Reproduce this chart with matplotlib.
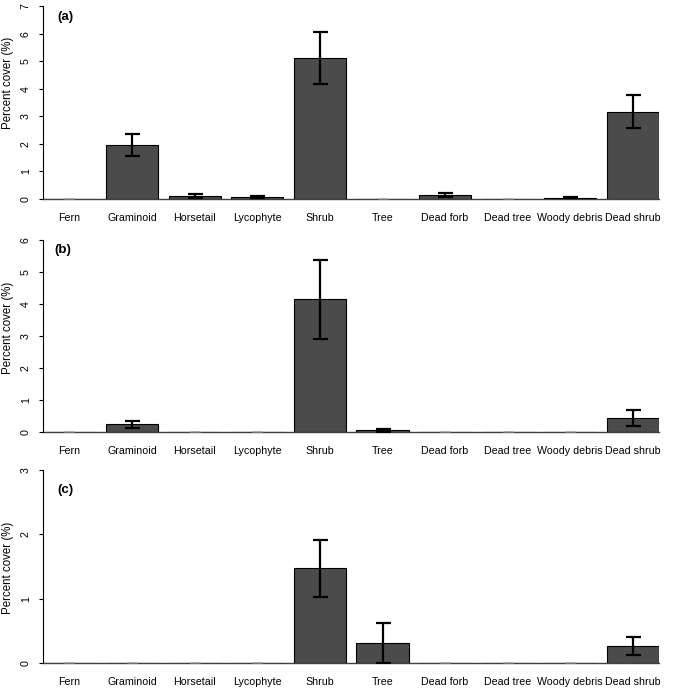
"""Percent cover by functional group, three panels"""

import matplotlib

matplotlib.use("Agg")
import matplotlib.pyplot as plt
import numpy as np

plt.rcParams["font.family"] = ["Liberation Sans", "DejaVu Sans"]

categories = [
    "Fern", "Graminoid", "Horsetail", "Lycophyte", "Shrub",
    "Tree", "Dead forb", "Dead tree", "Woody debris", "Dead shrub",
]

# mean percent cover and standard error for each panel
cover_a = [0.0, 1.96, 0.11, 0.07, 5.11, 0.0, 0.15, 0.0, 0.05, 3.16]
se_a = [0.0, 0.41, 0.06, 0.05, 0.93, 0.0, 0.07, 0.0, 0.03, 0.60]
cover_b = [0.0, 0.24, 0.0, 0.0, 4.15, 0.05, 0.0, 0.0, 0.0, 0.44]
se_b = [0.0, 0.11, 0.0, 0.0, 1.23, 0.04, 0.0, 0.0, 0.0, 0.24]
cover_c = [0.0, 0.0, 0.0, 0.0, 1.47, 0.31, 0.0, 0.0, 0.0, 0.26]
se_c = [0.0, 0.0, 0.0, 0.0, 0.44, 0.31, 0.0, 0.0, 0.0, 0.14]

panel_labels = ["(a)", "(b)", "(c)"]
y_max = [7, 6, 3]

# layout in pixels of the 685x690 figure
W, H = 685, 690
ax_left, ax_right = 43.4, 659.0
ax_rows = [(6, 199), (240, 432), (470, 663)]      # (top, bottom) of y range
label_pos = [(57.7, 16.7), (54.0, 250.0), (57.7, 490.0)]
ylabel_y = [83, 328, 568]

BAR_W = 1 / 1.2

fig = plt.figure(figsize=(W / 100, H / 100), dpi=100)

panels = [(cover_a, se_a), (cover_b, se_b), (cover_c, se_c)]
x = np.arange(len(categories))

for i, (cover, se) in enumerate(panels):
    top, bottom = ax_rows[i]
    ax = fig.add_axes([
        ax_left / W, 1 - bottom / H,
        (ax_right - ax_left) / W, (bottom - top) / H,
    ])
    cover = np.array(cover)
    se = np.array(se)

    ax.bar(x, cover, width=BAR_W, color="#4b4b4b", edgecolor="black",
           linewidth=0.8, zorder=2)

    nz = se > 0
    ax.errorbar(x[nz], cover[nz], yerr=se[nz], fmt="none", ecolor="black",
                elinewidth=1.6, capsize=5.4, capthick=1.6, zorder=3)
    ax.errorbar(x[~nz], cover[~nz], yerr=se[~nz], fmt="none", ecolor="0.45",
                elinewidth=1.0, capsize=3.6, capthick=1.0, zorder=3)

    ax.set_xlim(-BAR_W / 2, len(categories) - 1 + BAR_W / 2)
    ax.set_ylim(0, y_max[i])
    ax.set_yticks(range(y_max[i] + 1))
    ax.set_xticks(x)
    ax.set_xticklabels(categories, fontsize=7.7)
    ax.tick_params(axis="x", length=0, pad=10.2)
    ax.tick_params(axis="y", length=3, width=0.8, pad=6, labelsize=7.7)
    for lab in ax.get_yticklabels():
        lab.set_rotation(90)
        lab.set_va("center")

    for side in ("top", "right"):
        ax.spines[side].set_visible(False)
    ax.spines["left"].set_linewidth(0.8)
    ax.spines["bottom"].set_linewidth(1.0)
    ax.spines["bottom"].set_color("0.25")
    ax.spines["bottom"].set_zorder(1)

    lx, ly = label_pos[i]
    fig.text(lx / W, 1 - ly / H, panel_labels[i], fontsize=9.6,
             fontweight="bold", ha="left", va="center")
    fig.text(8.5 / W, 1 - ylabel_y[i] / H, "Percent cover (%)", fontsize=8.3,
             rotation=90, ha="center", va="center")

fig.savefig("out.png", dpi=100)
